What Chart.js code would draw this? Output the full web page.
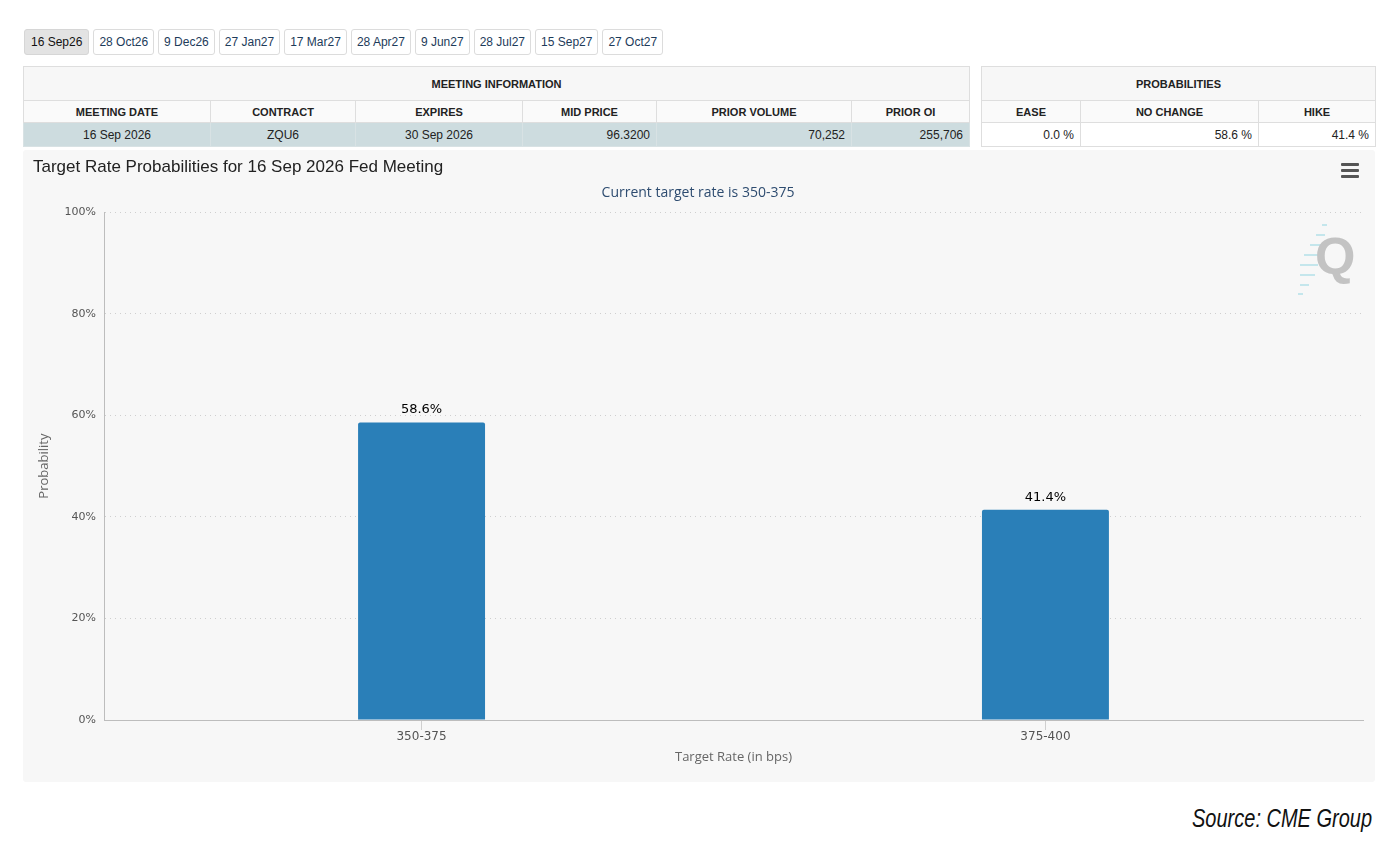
<!DOCTYPE html>
<html>
<head>
<meta charset="utf-8">
<title>Target Rate Probabilities</title>
<script src="https://cdn.jsdelivr.net/npm/chart.js@4.4.1/dist/chart.umd.min.js"></script>
<style>
  html, body { margin: 0; padding: 0; background: #fff; }
  body { width: 1400px; height: 862px; position: relative; font-family: "Liberation Sans", Arial, sans-serif; }
  #tabs { position: absolute; left: 24px; top: 29px; display: flex; gap: 4px; }
  #tabs .tab {
    height: 24px; line-height: 24px; padding: 0 5px; font-size: 12px; color: #1d3b5a;
    border: 1px solid #dcdcdc; border-radius: 3px; background: #fff; white-space: nowrap;
  }
  #tabs .tab.active { background: #e3e3e3; color: #111; border-color: #d6d6d6; padding: 0 6px; }
  table.info { position: absolute; top: 66px; border-collapse: collapse; font-size: 12px; color: #222; table-layout: fixed; }
  table.info td, table.info th { border: 1px solid #dedede; padding: 0 6px; }
  table.info th { font-size: 11px; font-weight: bold; background: #f7f7f7; }
  table.info tr.group th { height: 33px; }
  table.info tr.cols th { height: 21px; background: #fafafa; }
  table.info tr.vals td { height: 23px; }
  #meeting { left: 23px; width: 947px; }
  #meeting tr.vals td { background: #cddcdf; border-color: #d8e2e4; }
  #probs { left: 981px; width: 395px; }
  #probs tr.vals td { background: #fff; }
  .c { text-align: center; }
  .r { text-align: right; }
  #chartBox { position: absolute; left: 23px; top: 150px; width: 1352px; height: 632px; background: #f7f7f7; border-radius: 3px; }
  #menu { position: absolute; right: 16px; top: 13px; width: 18px; }
  #menu span { display: block; height: 3px; background: #555; margin-bottom: 3px; border-radius: 1px; }
  #logo { position: absolute; left: 1296px; top: 222px; width: 60px; height: 76px; }
  #logo .q { position: absolute; left: 19px; top: 4px; font: bold 52px "Liberation Sans", Arial, sans-serif; color: #c3c3c3; }
  #logo .s { position: absolute; height: 2px; background: #c4e6ec; }
  #source {
    position: absolute; right: 28px; top: 804px; font: italic 25px "Liberation Sans", Arial, sans-serif; color: #111;
    transform: scaleX(0.8); transform-origin: right center;
  }
</style>
</head>
<body>
<div id="tabs"></div>

<table class="info" id="meeting">
  <colgroup><col style="width:187px"><col style="width:145px"><col style="width:167px"><col style="width:134px"><col style="width:195px"><col style="width:118px"></colgroup>
  <tr class="group"><th colspan="6">MEETING INFORMATION</th></tr>
  <tr class="cols" id="meetingHead"></tr>
  <tr class="vals" id="meetingVals"></tr>
</table>

<table class="info" id="probs">
  <colgroup><col style="width:99px"><col style="width:178px"><col style="width:117px"></colgroup>
  <tr class="group"><th colspan="3">PROBABILITIES</th></tr>
  <tr class="cols" id="probHead"></tr>
  <tr class="vals" id="probVals"></tr>
</table>

<div id="chartBox">
  <canvas id="rateChart"></canvas>
  <div id="menu"><span></span><span></span><span></span></div>
</div>
<div id="logo">
  <div class="s" style="left:26px;top:2px;width:5px"></div>
  <div class="s" style="left:20px;top:12px;width:9px"></div>
  <div class="s" style="left:14px;top:22px;width:12px"></div>
  <div class="s" style="left:8px;top:32px;width:15px"></div>
  <div class="s" style="left:4px;top:42px;width:18px"></div>
  <div class="s" style="left:4px;top:52px;width:15px"></div>
  <div class="s" style="left:4px;top:62px;width:9px"></div>
  <div class="s" style="left:2px;top:71px;width:5px"></div>
  <div class="q">Q</div>
</div>
<div id="source">Source: CME Group</div>

<script>
// meeting tabs and table contents
const meetingTabs = ["16 Sep26", "28 Oct26", "9 Dec26", "27 Jan27", "17 Mar27", "28 Apr27", "9 Jun27", "28 Jul27", "15 Sep27", "27 Oct27"];
const meetingCols = ["MEETING DATE", "CONTRACT", "EXPIRES", "MID PRICE", "PRIOR VOLUME", "PRIOR OI"];
const meetingVals = ["16 Sep 2026", "ZQU6", "30 Sep 2026", "96.3200", "70,252", "255,706"];
const meetingAlign = ["c", "c", "c", "r", "r", "r"];
const probCols = ["EASE", "NO CHANGE", "HIKE"];
const probVals = ["0.0 %", "58.6 %", "41.4 %"];

// chart data
const rateBuckets = ["350-375", "375-400"];
const probabilities = [58.6, 41.4];
const yTickStep = 20;

const tabs = document.getElementById("tabs");
meetingTabs.forEach((t, i) => {
  const d = document.createElement("div");
  d.className = "tab" + (i === 0 ? " active" : "");
  d.textContent = t;
  tabs.appendChild(d);
});

function fillRow(id, cells, tag, align) {
  const row = document.getElementById(id);
  cells.forEach((txt, i) => {
    const c = document.createElement(tag);
    c.textContent = txt;
    c.className = align ? align[i] : "c";
    row.appendChild(c);
  });
}
fillRow("meetingHead", meetingCols, "th");
fillRow("meetingVals", meetingVals, "td", meetingAlign);
fillRow("probHead", probCols, "th");
fillRow("probVals", probVals, "td", ["r", "r", "r"]);

// value labels above each bar
const barLabels = {
  id: "barLabels",
  afterDatasetsDraw(chart) {
    const ctx = chart.ctx;
    const meta = chart.getDatasetMeta(0);
    ctx.save();
    ctx.font = '13px "DejaVu Sans"';
    ctx.fillStyle = "#000";
    ctx.textAlign = "center";
    ctx.textBaseline = "bottom";
    meta.data.forEach((bar, i) => {
      ctx.fillText(probabilities[i].toFixed(1) + "%", bar.x, bar.y - 6);
    });
    ctx.restore();
  }
};

const ctx = document.getElementById("rateChart").getContext("2d");
new Chart(ctx, {
  type: "bar",
  data: {
    datasets: [
      {
        label: "Probability",
        data: probabilities.map((p, i) => ({ x: i, y: p })),
        backgroundColor: "#2a7fb8",
        borderRadius: 2,
        borderSkipped: "bottom",
        barPercentage: 1,
        categoryPercentage: 0.2035,
      },
    ],
  },
  options: {
    responsive: true,
    maintainAspectRatio: false,
    animation: false,
    layout: { padding: { left: 10, right: 12, bottom: 12, top: 0 } },
    plugins: {
      legend: { display: false },
      tooltip: { enabled: false },
      title: {
        display: true,
        text: "Target Rate Probabilities for 16 Sep 2026 Fed Meeting",
        align: "start",
        color: "#222",
        font: { family: "Liberation Sans", size: 17, weight: "normal" },
        padding: { top: 7, bottom: 5 },
      },
      subtitle: {
        display: true,
        text: "Current target rate is 350-375",
        color: "#2e4c70",
        font: { family: "Open Sans", size: 14, weight: "normal" },
        padding: { top: 2, bottom: 11 },
      },
    },
    scales: {
      x: {
        type: "linear",
        offset: false,
        min: -0.509,
        max: 1.509,
        afterFit: (s) => { s.height = 50; },
        afterBuildTicks: (s) => { s.ticks = rateBuckets.map((_, i) => ({ value: i })); },
        grid: { display: true, offset: false, drawOnChartArea: false, drawTicks: true, tickLength: 10, tickColor: "#cfcfcf" },
        border: { display: true, color: "#bdbdbd", width: 1 },
        ticks: {
          color: "#555",
          padding: 0,
          font: { family: "DejaVu Sans", size: 12 },
          callback: (v) => rateBuckets[v],
        },
        title: {
          display: true,
          text: "Target Rate (in bps)",
          color: "#666",
          font: { family: "Open Sans", size: 13 },
          padding: { top: 0, bottom: 5 },
        },
      },
      y: {
        min: 0,
        max: 100,
        afterFit: (s) => { s.width = 71; },
        grid: { color: "#cfcfcf", drawTicks: false, lineWidth: 1 },
        border: { display: true, color: "#bdbdbd", width: 1, dash: [1, 4] },
        ticks: {
          stepSize: yTickStep,
          padding: 8,
          color: "#555",
          font: { family: "DejaVu Sans", size: 11 },
          callback: (v) => v + "%",
        },
        title: {
          display: true,
          text: "Probability",
          color: "#666",
          font: { family: "Open Sans", size: 13 },
          padding: { top: 3, bottom: 0 },
        },
      },
    },
  },
  plugins: [barLabels],
});
</script>
</body>
</html>
